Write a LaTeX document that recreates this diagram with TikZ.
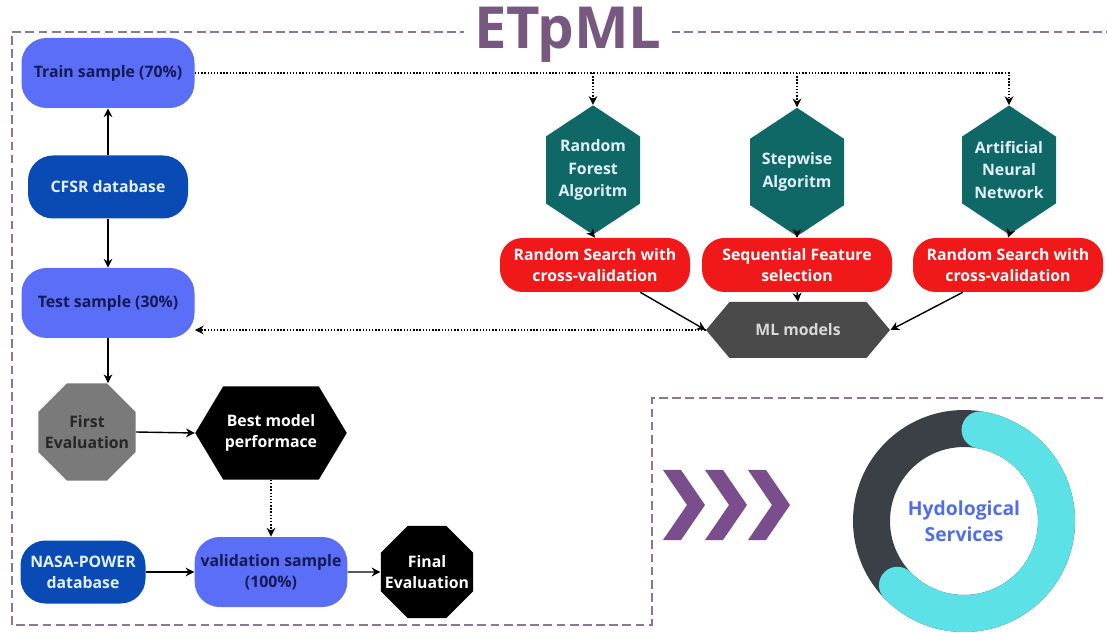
\documentclass[tikz,border=0pt]{standalone}
\usepackage{fontspec}
\setmainfont{Open Sans}
\usepackage{xcolor}
\definecolor{SampleBlue}{RGB}{90, 110, 248}
\definecolor{SampleText}{RGB}{22, 26, 84}
\definecolor{DataBlue}{RGB}{10, 74, 180}
\definecolor{DataText}{RGB}{226, 240, 255}
\definecolor{AlgoTeal}{RGB}{16, 104, 102}
\definecolor{TuneRed}{RGB}{240, 24, 24}
\definecolor{ModelGrey}{RGB}{74, 74, 74}
\definecolor{EvalGrey}{RGB}{122, 122, 122}
\definecolor{FrameMauve}{RGB}{140, 118, 146}
\definecolor{TitlePurple}{RGB}{118, 88, 128}
\definecolor{ChevronPurple}{RGB}{122, 78, 140}
\definecolor{RingDark}{RGB}{58, 64, 70}
\definecolor{RingCyan}{RGB}{92, 225, 230}
\definecolor{HydroBlue}{RGB}{82, 110, 228}
\usepackage{tikz}
\usetikzlibrary{shapes.geometric, shapes.symbols, arrows.meta, positioning, calc}

\begin{document}
\begin{tikzpicture}[
  samplebox/.style={rectangle, rounded corners=0.5cm, fill=SampleBlue,
    minimum width=3.46cm, minimum height=1.4cm, align=center,
    font=\fontsize{9}{12}\selectfont\bfseries, text=SampleText},
  databox/.style={rectangle, rounded corners=0.5cm, fill=DataBlue,
    minimum width=3.2cm, minimum height=1.26cm, align=center,
    font=\fontsize{9}{12}\selectfont\bfseries, text=DataText},
  algobox/.style={signal, signal to=north and south, signal pointer angle=113,
    fill=AlgoTeal, minimum width=1.88cm, minimum height=2.3cm, inner sep=1pt,
    align=center, font=\fontsize{9}{13}\selectfont\bfseries, text=DataText},
  tunebox/.style={rectangle, rounded corners=0.45cm, fill=TuneRed,
    minimum width=3.8cm, minimum height=1.08cm, align=center,
    font=\fontsize{9}{12}\selectfont\bfseries, text=white},
  hexbox/.style={signal, signal to=east and west, inner sep=1pt,
    align=center, font=\fontsize{9}{12}\selectfont\bfseries},
  evalbox/.style={regular polygon, regular polygon sides=8, inner sep=-0.25cm,
    align=center, font=\fontsize{9}{12}\selectfont\bfseries},
  arr/.style={-{Stealth[length=5pt, width=5pt]}, thick, black},
  dotarr/.style={arr, densely dotted},
  dashframe/.style={draw=FrameMauve, line width=1.2pt, dash pattern=on 5pt off 2.5pt}
]
  \useasboundingbox (0,0) rectangle (22.14,12.64);

  % outer frame and result panel
  \draw[dashframe] (22.3,12.0) -- (0.24,12.0) -- (0.24,0.14) -- (13.04,0.14)
    -- (13.04,4.68) -- (22.3,4.68);
  \node[fill=white, inner xsep=6pt, inner ysep=0pt, text=TitlePurple,
    font=\fontsize{33}{36}\selectfont\bfseries] (title) at (11.36,11.94) {ETpML};

  % data and samples
  \node[samplebox] (train) at (2.16,11.18) {Train sample (70\%)};
  \node[databox]   (cfsr)  at (2.16, 8.90) {CFSR database};
  \node[samplebox] (test)  at (2.16, 6.58) {Test sample (30\%)};

  % algorithms and tuning
  \node[algobox] (rf)  at (11.86,9.24) {Random\\Forest\\Algoritm};
  \node[algobox] (sw)  at (15.94,9.20) {Stepwise\\Algoritm};
  \node[algobox] (ann) at (20.18,9.24) {Artificial\\Neural\\Network};

  \node[tunebox] (rs1) at (11.90,7.34) {Random Search with\\cross-validation};
  \node[tunebox] (sfs) at (15.94,7.34) {Sequential Feature\\selection};
  \node[tunebox] (rs2) at (20.16,7.34) {Random Search with\\cross-validation};

  \node[hexbox, signal pointer angle=100, fill=ModelGrey, text=white!85!black,
    minimum width=3.68cm, minimum height=1.12cm] (ml) at (15.96,6.04) {ML models};

  % evaluation
  \node[evalbox, fill=EvalGrey, text=black!85, minimum size=2.1cm]
    (first) at (1.74,4.00) {First\\Evaluation};
  \node[hexbox, signal pointer angle=118, fill=black, text=white,
    minimum width=2.96cm, minimum height=1.86cm] (best) at (5.42,3.98) {Best model\\performace};
  \node[databox, minimum width=2.5cm] (nasa) at (1.66,1.20) {NASA-POWER\\database};
  \node[samplebox, minimum width=2.94cm] (valid) at (5.42,1.20) {validation sample\\(100\%)};
  \node[evalbox, fill=black, text=white, minimum size=2.0cm]
    (final) at (8.54,1.20) {Final\\Evaluation};

  % connectors
  \draw[arr] (cfsr.north) -- (train.south);
  \draw[arr] (cfsr.south) -- (test.north);
  \draw[arr] (test.south) -- (test.south |- first.north);
  \draw[arr] (first.east) -- (best.west);
  \draw[dotarr] (best.south) -- (valid.north);
  \draw[arr] (nasa.east) -- (valid.west);
  \draw[arr] (valid.east) -- (final.west);

  \draw[dotarr] (train.east) -| (ann.north);
  \draw[dotarr] (train.east -| rf.north) -- (rf.north);
  \draw[dotarr] (train.east -| sw.north) -- (sw.north);

  \draw[arr] (rf.south)  -- (rs1.north);
  \draw[arr] (sw.south)  -- (sfs.north);
  \draw[arr] (ann.south) -- (rs2.north);

  \draw[arr] ([xshift=-1.0cm]rs1.south east) -- (ml.west);
  \draw[arr] (sfs.south) -- (ml.north);
  \draw[arr] ([xshift=1.0cm]rs2.south west) -- (ml.east);
  \draw[dotarr] (ml.west) -- (ml.west -| test.east);

  % chevrons
  \foreach \cx in {13.26, 14.10, 14.96} {
    \fill[ChevronPurple] (\cx,3.24) -- ++(0.36,0) -- ++(0.48,-0.70)
      -- ++(-0.48,-0.70) -- ++(-0.36,0) -- ++(0.48,0.70) -- cycle;
  }

  % hydrological services ring
  \coordinate (ring) at (19.28,2.22);
  \draw[RingDark, line width=0.74cm] (ring) circle (1.85cm);
  \draw[RingCyan, line width=0.74cm, line cap=round]
    ([shift={(80:1.85cm)}]ring) arc (80:-136:1.85cm);
  \node[align=center, text=HydroBlue, font=\fontsize{11}{15}\selectfont\bfseries]
    (hydro) at (ring) {Hydological\\Services};
\end{tikzpicture}
\end{document}
